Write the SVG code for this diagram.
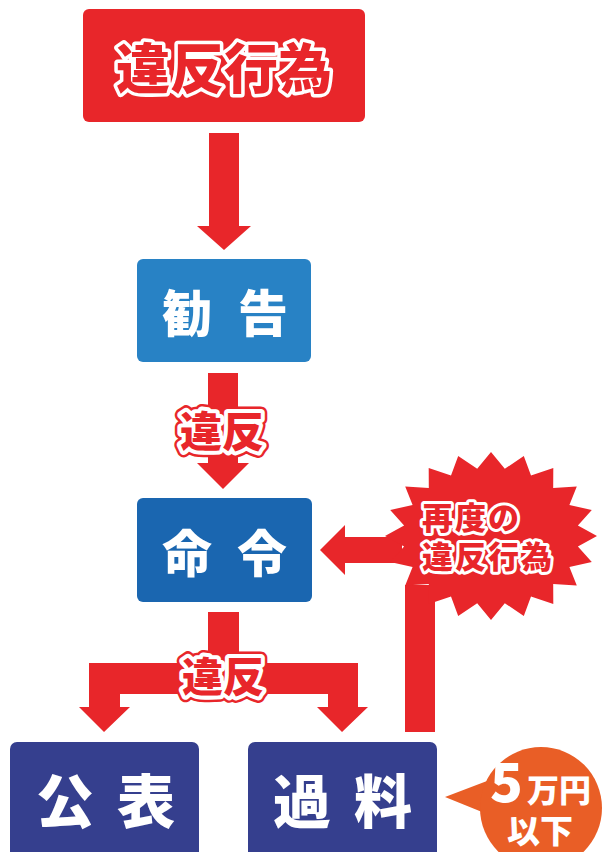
<svg xmlns="http://www.w3.org/2000/svg" xmlns:xlink="http://www.w3.org/1999/xlink" width="607" height="852" viewBox="0 0 607 852">
<style>
.jp{font-family:"Noto Sans CJK JP","Noto Sans",sans-serif;font-weight:900}
.red{fill:#E8262A}
.wt{fill:#FFFFFF}
.lbl-out{fill:#E8262A;stroke:#E8262A;stroke-width:13;stroke-linejoin:round}
.lbl-mid{fill:#E8262A;stroke:#FFFFFF;stroke-width:8;stroke-linejoin:round}
.lbl-in{fill:#E8262A}
.halo{fill:#E8262A;stroke:#FFFFFF;stroke-width:7;stroke-linejoin:round;paint-order:stroke}
</style>
<defs>
<text id="lbl2" class="jp" x="222" y="428" font-size="42" text-anchor="middle" dominant-baseline="central">違反</text>
<text id="lbl3" class="jp" x="223" y="674" font-size="41" text-anchor="middle" dominant-baseline="central">違反</text>
</defs>
<rect width="607" height="852" fill="#FFFFFF"/>
<g id="connectors">
<polygon class="red" points="209,133 239,133 239,226 251,226 224,250 197,226 209,226"/>
<polygon class="red" points="208,373 238,373 238,463 249,463 223,489 197,463 208,463"/>
<polygon class="red" points="208,612 239,612 239,663 358,663 358,707 368,707 342,732 317,707 328,707 328,694 120,694 120,707 130,707 104,732 79,707 89,707 89,663 208,663"/>
<polygon class="red" points="402,537 345,537 345,525 320,550 345,575 345,563 402,563"/>
<rect class="red" x="405" y="585" width="30" height="147"/>
<polygon fill="#E95E26" points="445,797 487,781 487,814"/>
</g>
<g id="label-ihan-1">
<use xlink:href="#lbl2" class="lbl-out"/>
<use xlink:href="#lbl2" class="lbl-mid"/>
<use xlink:href="#lbl2" class="lbl-in"/>
</g>
<g id="label-ihan-2">
<use xlink:href="#lbl3" class="lbl-out"/>
<use xlink:href="#lbl3" class="lbl-mid"/>
<use xlink:href="#lbl3" class="lbl-in"/>
</g>
<g id="node-ihankoui">
<rect x="83" y="9" width="282" height="113" rx="6" fill="#E8262A"/>
<text class="jp halo" x="224" y="65" font-size="54" text-anchor="middle" dominant-baseline="central">違反行為</text>
</g>
<g id="node-kankoku">
<rect x="137" y="259" width="174" height="103" rx="6" fill="#2882C5"/>
<text class="jp wt" x="162" y="310" font-size="50" letter-spacing="26" dominant-baseline="central">勧告</text>
</g>
<g id="node-meirei">
<rect x="137" y="498" width="175" height="104" rx="6" fill="#1A66B0"/>
<text class="jp wt" x="162" y="550" font-size="50" letter-spacing="25" dominant-baseline="central">命令</text>
</g>
<g id="node-kouhyou">
<rect x="10" y="742" width="189" height="125" rx="7" fill="#353F8E"/>
<text class="jp wt" x="36" y="798" font-size="58" letter-spacing="23" dominant-baseline="central">公表</text>
</g>
<g id="node-karyou">
<rect x="248" y="742" width="189" height="125" rx="7" fill="#353F8E"/>
<text class="jp wt" x="273" y="798" font-size="58" letter-spacing="23" dominant-baseline="central">過料</text>
</g>
<g id="node-saido">
<polygon fill="#E8262A" points="597,536 577.9,546.6 591.8,562 569.4,566.9 576.8,585.4 553.2,584.1 553.3,604 531,596.6 523.8,615.9 504.8,603.2 491,620 477.2,603.2 458.2,615.9 451,596.6 428.7,604 428.8,584.1 405.2,585.4 412.6,566.9 390.2,562 404.1,546.6 385,536 404.1,525.4 390.2,510 412.6,505.1 405.2,486.6 428.8,487.9 428.7,468 451,475.4 458.2,456.1 477.2,468.8 491,452 504.8,468.8 523.8,456.1 531,475.4 553.3,468 553.2,487.9 576.8,486.6 569.4,505.1 591.8,510 577.9,525.4"/>
<text class="jp halo" x="422" y="515" font-size="31" letter-spacing="2" dominant-baseline="central" style="stroke-width:6">再度の</text>
<text class="jp halo" x="422" y="554" font-size="31" letter-spacing="2" dominant-baseline="central" style="stroke-width:6">違反行為</text>
</g>
<g id="node-5man">
<circle cx="541" cy="808" r="61" fill="#E95E26"/>
<text class="jp wt" x="490" y="802" font-size="54">5</text>
<text class="jp wt" x="559" y="788" font-size="32" text-anchor="middle" dominant-baseline="central">万円</text>
<text class="jp wt" x="540" y="829" font-size="33" text-anchor="middle" dominant-baseline="central">以下</text>
</g>
</svg>
